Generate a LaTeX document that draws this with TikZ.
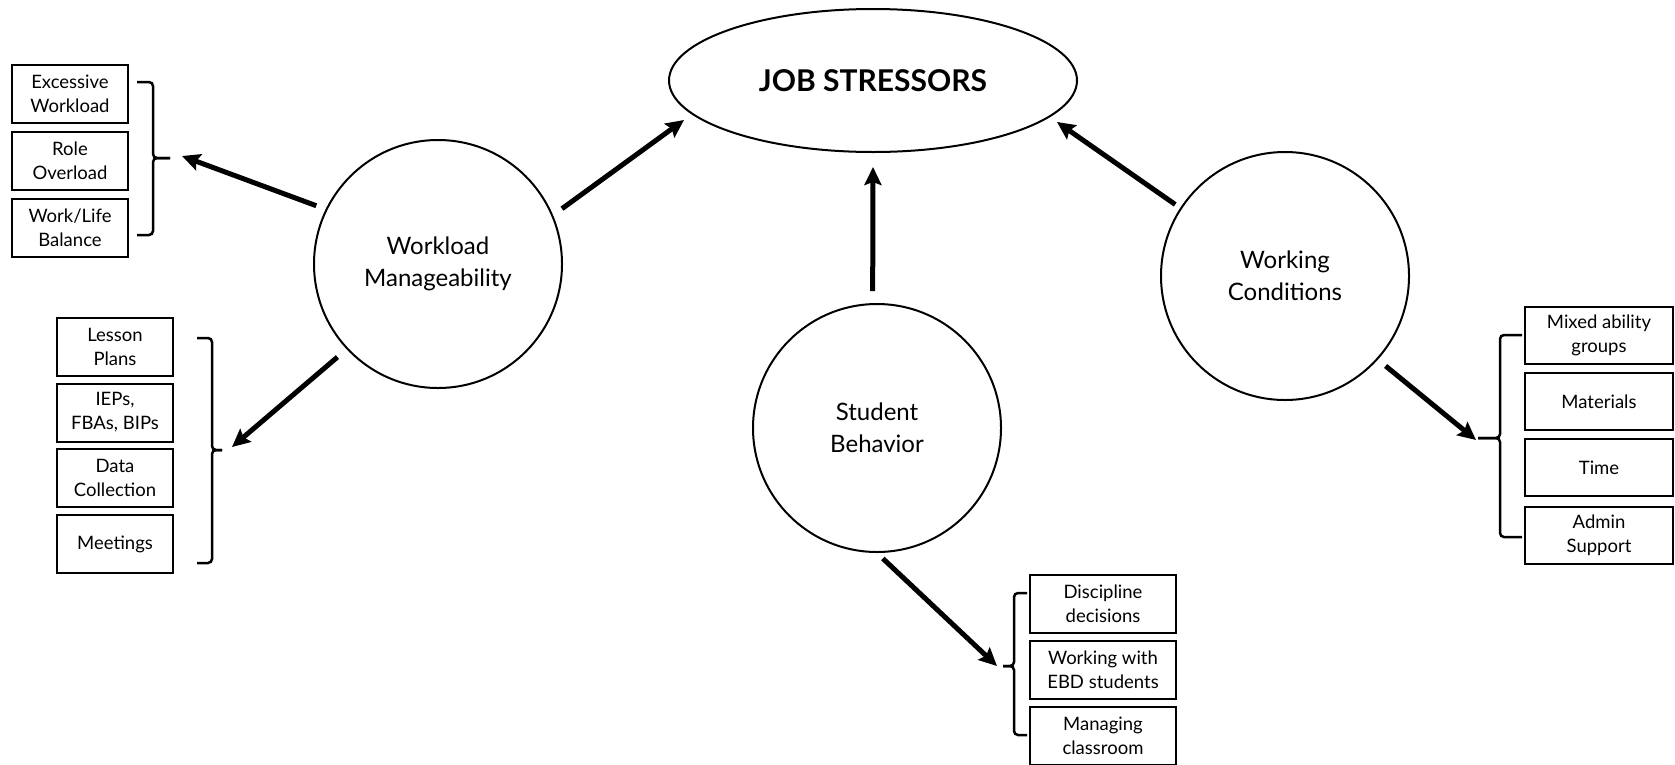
\documentclass[tikz,border=0pt]{standalone}
\usepackage{fontspec}
\setmainfont{Lato}
\usetikzlibrary{arrows.meta,shapes.geometric}

% curly grouping bracket: stub x, spine x, nub tip x, top y, middle y, bottom y
\newcommand\groupbrace[6]{%
  \draw[brk] (#1,#4) -- (#2,#4) -- (#2,#5) -- (#3,#5);
  \draw[brk] (#3,#5) -- (#2,#5) -- (#2,#6) -- (#1,#6);
}

\begin{document}
\begin{tikzpicture}[x=1pt,y=-1pt,
  core/.style={ellipse, draw, line width=2pt, minimum width=408pt,
    minimum height=143pt, inner sep=0pt,
    font=\fontsize{30}{36}\selectfont\bfseries},
  hub/.style={circle, draw, line width=2pt, minimum size=248pt,
    inner sep=0pt, align=center, font=\fontsize{24}{32}\selectfont},
  item/.style={draw, line width=2pt, inner sep=0pt, align=center,
    font=\fontsize{18.5}{24}\selectfont},
  itemA/.style={item, minimum width=116pt, minimum height=58pt},
  itemC/.style={item, minimum width=148pt, minimum height=57pt},
  itemD/.style={item, minimum width=146pt, minimum height=58pt},
  arr/.style={line width=5pt,
    -{Stealth[length=18pt,width=17pt,inset=3pt]}},
  brk/.style={line width=2.5pt, rounded corners=4pt}
]
\useasboundingbox (0,0) rectangle (1675,764);

% central concept
\node[core] (js) at (873,80.5) {JOB STRESSORS};

% three stressor areas
\node[hub] (wm) at (438,264)  {Workload\\Manageability};
\node[hub] (sb) at (877,428)  {Student\\Behavior};
\node[hub] (wc) at (1285,276) {Working\\Conditions};

% workload: upper list
\node[itemA] (ew) at (70,94)  {Excessive\\Workload};
\node[itemA] (ro) at (70,161) {Role\\Overload};
\node[itemA] (wl) at (70,228) {Work/Life\\Balance};
\groupbrace{137}{153}{170}{82}{158}{235}

% workload: lower list
\node[itemA] (lp) at (115,347)   {Lesson\\Plans};
\node[itemA] (ie) at (115,412.5) {IEPs,\\FBAs, BIPs};
\node[itemA] (dc) at (115,478)   {Data\\Collection};
\node[itemA] (mt) at (115,544)   {Meetings};
\groupbrace{197}{212}{222}{338}{450}{563}

% working conditions list
\node[itemC] (ma) at (1599,335.5) {Mixed ability\\groups};
\node[itemC] (mat) at (1599,401.5) {Materials};
\node[itemC] (tm) at (1599,467.5) {Time};
\node[itemC] (as) at (1599,535)   {Admin\\Support};
\groupbrace{1522}{1500}{1478}{335}{438}{537}

% student behavior list
\node[itemD] (dd) at (1103,604) {Discipline\\decisions};
\node[itemD] (we) at (1103,670) {Working with\\EBD students};
\node[itemD] (mc) at (1103,736) {Managing\\classroom};
\groupbrace{1027}{1014}{1003}{593}{666}{735}

% arrow targets
\coordinate (js-a) at (684,120);
\coordinate (js-b) at (873,167);
\coordinate (js-c) at (1057,122);
\coordinate (gA) at (182,156);
\coordinate (gB) at (232,447);
\coordinate (gC) at (1476,440);
\coordinate (gD) at (997,666);

% connectors
\draw[arr, shorten <=11pt] (wm.23) -- (js-a);
\draw[arr, shorten <=12pt] (sb.92) -- (js-b);
\draw[arr, shorten <=6pt] (wc.147.5) -- (js-c);
\draw[arr, shorten <=10pt] (wm.154.4) -- (gA);
\draw[arr, shorten <=12pt] (wm.223.5) -- (gB);
\draw[arr, shorten <=10pt] (wc.-42.3) -- (gC);
\draw[arr, shorten <=8pt] (sb.south) -- (gD);
\end{tikzpicture}
\end{document}
